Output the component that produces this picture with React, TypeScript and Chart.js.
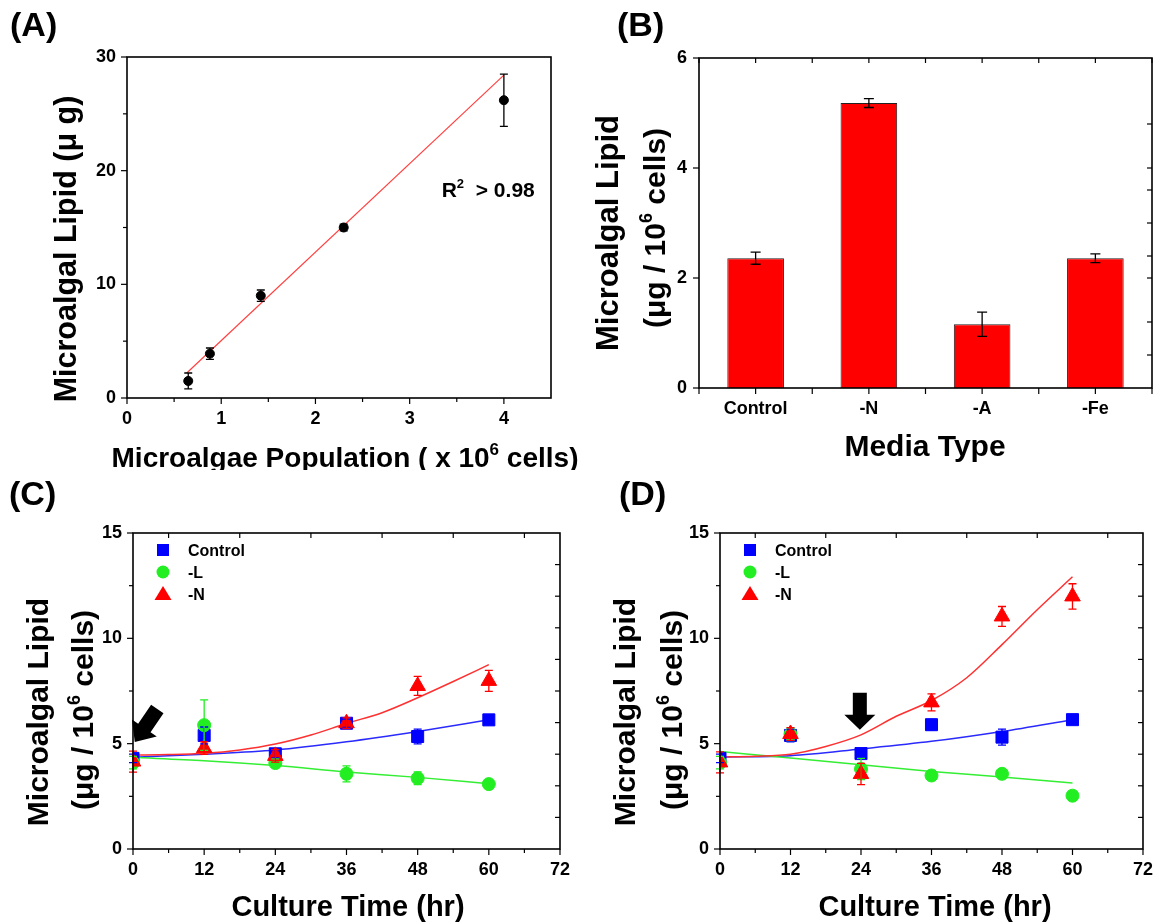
import React, { useEffect, useRef } from "react";
import { Chart, registerables } from "chart.js";
Chart.register(...registerables);

const FONT = "'Liberation Sans', Arial, Helvetica, sans-serif";

// ---------- Panel A data ----------
const popX = [0.65, 0.88, 1.42, 2.3, 4.0];
const lipidA = [1.5, 3.9, 9.0, 15.0, 26.2];
const lipidAErr = [0.7, 0.5, 0.5, 0.3, 2.3];
const fitAX = [0.634, 4.0];
const fitAY = [2.2, 28.4];

// ---------- Panel B data ----------
const mediaTypes = ["Control", "-N", "-A", "-Fe"];
const lipidB = [2.36, 5.18, 1.16, 2.36];
const lipidBErr = [0.11, 0.08, 0.22, 0.08];

// ---------- Panel C / D data ----------
const timeHr = [0, 12, 24, 36, 48, 60];
const fitTime = [0, 6, 12, 18, 24, 30, 36, 42, 48, 54, 60];

const cControl = [4.3, 5.39, 4.52, 5.97, 5.34, 6.13];
const cControlErr = [0.2, 0.4, 0.2, 0.2, 0.35, 0.15];
const cMinusL = [4.1, 5.88, 4.08, 3.57, 3.36, 3.08];
const cMinusLErr = [0.3, 1.2, 0.2, 0.38, 0.3, 0.15];
const cMinusN = [4.15, 4.79, 4.42, 5.97, 7.74, 7.98];
const cMinusNErr = [0.5, 0.3, 0.3, 0.25, 0.45, 0.5];
const cFitControl = [4.35, 4.5, 4.7, 5.09, 5.58, 6.13];
const cFitL = [4.35, 4.19, 3.96, 3.66, 3.4, 3.1];
const cFitN = [4.46, 4.48, 4.54, 4.7, 4.98, 5.41, 5.96, 6.47, 7.18, 7.95, 8.75];

const dControl = [4.3, 5.39, 4.53, 5.9, 5.31, 6.14];
const dControlErr = [0.2, 0.3, 0.2, 0.25, 0.38, 0.15];
const dMinusL = [4.1, 5.45, 3.8, 3.49, 3.57, 2.53];
const dMinusLErr = [0.3, 0.3, 0.5, 0.15, 0.15, 0.15];
const dMinusN = [4.11, 5.46, 3.56, 6.96, 11.04, 11.99];
const dMinusNErr = [0.5, 0.3, 0.5, 0.4, 0.47, 0.6];
const dFitControl = [4.37, 4.43, 4.75, 5.11, 5.58, 6.14];
const dFitL = [4.63, 4.32, 4.0, 3.68, 3.42, 3.13];
const dFitN = [4.37, 4.4, 4.5, 4.87, 5.42, 6.3, 7.05, 8.13, 9.7, 11.36, 12.92];

const RED = "#ff0000";
const GREEN = "#22ee22";
const BLUE = "#0000ff";

type Part = { t: string; sup?: boolean };

function drawRich(
  ctx: CanvasRenderingContext2D,
  parts: Part[],
  x: number,
  y: number,
  size: number,
  opts: { rot?: number; align?: "center" | "left" } = {}
) {
  ctx.save();
  ctx.translate(x, y);
  if (opts.rot) ctx.rotate(opts.rot);
  const fonts = parts.map((p) => `bold ${p.sup ? Math.round(size * 0.6) : size}px ${FONT}`);
  let total = 0;
  const widths = parts.map((p, i) => {
    ctx.font = fonts[i];
    const w = ctx.measureText(p.t).width;
    total += w;
    return w;
  });
  let cx = (opts.align ?? "center") === "center" ? -total / 2 : 0;
  ctx.textBaseline = "alphabetic";
  ctx.textAlign = "left";
  ctx.fillStyle = "#000";
  parts.forEach((p, i) => {
    ctx.font = fonts[i];
    ctx.fillText(p.t, cx, p.sup ? -size * 0.42 : 0);
    cx += widths[i];
  });
  ctx.restore();
}

type TickSet = { axis: "x" | "y"; side: "left" | "right" | "top" | "bottom"; values: number[]; len: number };
type ErrSet = { ds: number; err: number[]; color: string; cap: number };

function seq(a: number, b: number, step: number) {
  const r: number[] = [];
  for (let v = a; v <= b + 1e-9; v += step) r.push(+v.toFixed(6));
  return r;
}

function makeDecor(ticks: TickSet[], errs: ErrSet[], extra: (chart: any, ctx: CanvasRenderingContext2D) => void) {
  return {
    id: "decor",
    afterDatasetsDraw(chart: any) {
      const ctx: CanvasRenderingContext2D = chart.ctx;
      const ys = chart.scales.y;
      errs.forEach((e) => {
        const meta = chart.getDatasetMeta(e.ds);
        const data = chart.data.datasets[e.ds].data;
        ctx.save();
        ctx.strokeStyle = e.color;
        ctx.lineWidth = 1.3;
        meta.data.forEach((el: any, i: number) => {
          const raw = data[i];
          const v = typeof raw === "number" ? raw : raw.y;
          const d = e.err[i];
          if (!d) return;
          const x = el.x;
          const y1 = ys.getPixelForValue(v + d);
          const y2 = ys.getPixelForValue(v - d);
          ctx.beginPath();
          ctx.moveTo(x, y1);
          ctx.lineTo(x, y2);
          ctx.moveTo(x - e.cap, y1);
          ctx.lineTo(x + e.cap, y1);
          ctx.moveTo(x - e.cap, y2);
          ctx.lineTo(x + e.cap, y2);
          ctx.stroke();
        });
        ctx.restore();
      });
    },
    afterDraw(chart: any) {
      const ctx: CanvasRenderingContext2D = chart.ctx;
      const a = chart.chartArea;
      ctx.save();
      ctx.strokeStyle = "#000";
      ctx.lineWidth = 1.2;
      ticks.forEach((t) => {
        const sc = chart.scales[t.axis];
        t.values.forEach((v) => {
          const p = sc.getPixelForValue(v);
          ctx.beginPath();
          if (t.side === "bottom") {
            ctx.moveTo(p, a.bottom);
            ctx.lineTo(p, a.bottom + t.len);
          } else if (t.side === "top") {
            ctx.moveTo(p, a.top);
            ctx.lineTo(p, a.top - t.len);
          } else if (t.side === "left") {
            ctx.moveTo(a.left, p);
            ctx.lineTo(a.left - t.len, p);
          } else {
            ctx.moveTo(a.right, p);
            ctx.lineTo(a.right + t.len, p);
          }
          ctx.stroke();
        });
      });
      ctx.lineWidth = 1.6;
      ctx.strokeRect(a.left, a.top, a.right - a.left, a.bottom - a.top);
      ctx.restore();
      extra(chart, ctx);
    },
  };
}

const tickFont = { family: FONT, size: 18, weight: "bold" as const };

function linAxis(min: number, max: number, step: number, fit: "w" | "h", size: number, padding: number) {
  return {
    type: "linear" as const,
    min,
    max,
    grid: { display: false, drawTicks: false },
    border: { display: false },
    ticks: { stepSize: step, includeBounds: false, font: tickFont, color: "#000", padding, maxRotation: 0, autoSkip: false },
    afterFit: (s: any) => {
      if (fit === "w") s.width = size;
      else s.height = size;
    },
  };
}

function drawArrow(
  ctx: CanvasRenderingContext2D,
  tipX: number,
  tipY: number,
  angle: number,
  L: number,
  hl: number,
  hw: number,
  sw: number
) {
  ctx.save();
  ctx.translate(tipX, tipY);
  ctx.rotate(angle);
  ctx.beginPath();
  ctx.moveTo(0, 0);
  ctx.lineTo(-hl, hw / 2);
  ctx.lineTo(-hl, sw / 2);
  ctx.lineTo(-L, sw / 2);
  ctx.lineTo(-L, -sw / 2);
  ctx.lineTo(-hl, -sw / 2);
  ctx.lineTo(-hl, -hw / 2);
  ctx.closePath();
  ctx.fillStyle = "#000";
  ctx.fill();
  ctx.restore();
}

function drawLegend(ctx: CanvasRenderingContext2D, a: any) {
  const sx = a.left + 30;
  const tx = a.left + 55;
  const rows = [a.top + 17, a.top + 39, a.top + 61];
  ctx.save();
  ctx.fillStyle = BLUE;
  ctx.fillRect(sx - 6, rows[0] - 6, 12, 12);
  ctx.fillStyle = GREEN;
  ctx.beginPath();
  ctx.arc(sx, rows[1], 6.5, 0, Math.PI * 2);
  ctx.fill();
  ctx.fillStyle = RED;
  ctx.beginPath();
  ctx.moveTo(sx, rows[2] - 8);
  ctx.lineTo(sx + 8.5, rows[2] + 6);
  ctx.lineTo(sx - 8.5, rows[2] + 6);
  ctx.closePath();
  ctx.fill();
  ctx.restore();
  const labels = ["Control", "-L", "-N"];
  labels.forEach((l, i) => drawRich(ctx, [{ t: l }], tx, rows[i] + 6, 16, { align: "left" }));
}

const pts = (xs: number[], ys: number[]) => xs.map((x, i) => ({ x, y: ys[i] }));

function buildA() {
  const ticks: TickSet[] = [
    { axis: "x", side: "bottom", values: seq(0, 4, 1), len: 6 },
    { axis: "x", side: "bottom", values: seq(0.5, 3.5, 1), len: 4 },
    { axis: "y", side: "left", values: seq(0, 30, 10), len: 6 },
    { axis: "y", side: "left", values: seq(5, 25, 10), len: 4 },
  ];
  const errs: ErrSet[] = [{ ds: 0, err: lipidAErr, color: "#000", cap: 4 }];
  const extra = (chart: any, ctx: CanvasRenderingContext2D) => {
    drawRich(ctx, [{ t: "(A)" }], 10, 36, 34, { align: "left" });
    drawRich(ctx, [{ t: "Microalgal Lipid (μ g)" }], 76, 249, 30.5, { rot: -Math.PI / 2 });
    drawRich(ctx, [{ t: "Microalgae Population ( x 10" }, { t: "6", sup: true }, { t: " cells)" }], 345, 467, 28);
    const px = chart.scales.x.getPixelForValue(3.34);
    const py = chart.scales.y.getPixelForValue(17.7);
    drawRich(ctx, [{ t: "R" }, { t: "2", sup: true }, { t: "  > 0.98" }], px, py, 21, { align: "left" });
  };
  return {
    type: "scatter" as const,
    data: {
      datasets: [
        {
          label: "Microalgal lipid",
          data: pts(popX, lipidA),
          pointStyle: "circle",
          pointRadius: 4.5,
          backgroundColor: "#000",
          borderColor: "#000",
        },
        {
          label: "Linear fit",
          data: pts(fitAX, fitAY),
          showLine: true,
          pointRadius: 0,
          borderColor: "#ff4040",
          borderWidth: 1.2,
        },
      ],
    },
    options: {
      responsive: false,
      animation: false as const,
      layout: { padding: { left: 0, top: 57, right: 29, bottom: 0 } },
      plugins: { legend: { display: false }, tooltip: { enabled: false } },
      scales: {
        x: linAxis(0, 4.5, 1, "h", 72, 10),
        y: linAxis(0, 30, 10, "w", 127, 11),
      },
    },
    plugins: [makeDecor(ticks, errs, extra)],
  };
}

function buildB() {
  const cat = seq(-0.5, 3.5, 0.5);
  const ticks: TickSet[] = [
    { axis: "x", side: "bottom", values: cat, len: 6 },
    { axis: "x", side: "top", values: cat, len: -5 },
    { axis: "y", side: "left", values: seq(0, 6, 2), len: 6 },
    { axis: "y", side: "right", values: [0.6, 1.2, 2, 2.4, 3, 3.6, 4, 4.8], len: -5 },
  ];
  const errs: ErrSet[] = [{ ds: 0, err: lipidBErr, color: "#000", cap: 5 }];
  const extra = (chart: any, ctx: CanvasRenderingContext2D) => {
    drawRich(ctx, [{ t: "(B)" }], 37, 36, 34, { align: "left" });
    drawRich(ctx, [{ t: "Microalgal Lipid" }], 38, 233, 31, { rot: -Math.PI / 2 });
    drawRich(ctx, [{ t: "(μg / 10" }, { t: "6", sup: true }, { t: " cells)" }], 85, 228, 30, { rot: -Math.PI / 2 });
    drawRich(ctx, [{ t: "Media Type" }], 345, 456, 30);
  };
  return {
    type: "bar" as const,
    data: {
      labels: mediaTypes,
      datasets: [
        {
          label: "Microalgal lipid",
          data: lipidB,
          backgroundColor: RED,
          borderColor: "#222",
          borderWidth: 1,
          barPercentage: 0.5,
          categoryPercentage: 1,
        },
      ],
    },
    options: {
      responsive: false,
      animation: false as const,
      layout: { padding: { left: 0, top: 58, right: 11, bottom: 0 } },
      plugins: { legend: { display: false }, tooltip: { enabled: false } },
      scales: {
        x: {
          type: "category" as const,
          grid: { display: false, drawTicks: false },
          border: { display: false },
          ticks: { font: tickFont, color: "#000", padding: 10, maxRotation: 0, autoSkip: false },
          afterFit: (s: any) => {
            s.height = 82;
          },
        },
        y: linAxis(0, 6, 2, "w", 119, 12),
      },
    },
    plugins: [makeDecor(ticks, errs, extra)],
  };
}

function buildTime(
  letter: string,
  letterX: number,
  ctrl: number[],
  ctrlErr: number[],
  minusL: number[],
  minusLErr: number[],
  minusN: number[],
  minusNErr: number[],
  fitC: number[],
  fitL: number[],
  fitN: number[],
  leftW: number,
  padRight: number,
  titleX: number,
  line1X: number,
  line2X: number,
  arrow: (chart: any, ctx: CanvasRenderingContext2D) => void
) {
  const ticks: TickSet[] = [
    { axis: "x", side: "bottom", values: seq(0, 72, 12), len: 6 },
    { axis: "x", side: "bottom", values: seq(6, 66, 12), len: 4 },
    { axis: "x", side: "top", values: seq(6, 66, 12), len: -5 },
    { axis: "y", side: "left", values: seq(0, 15, 5), len: 6 },
    { axis: "y", side: "left", values: seq(2.5, 12.5, 5), len: 4 },
    { axis: "y", side: "right", values: seq(1.5, 13.5, 1.5), len: -5 },
  ];
  const errs: ErrSet[] = [
    { ds: 2, err: ctrlErr, color: BLUE, cap: 4 },
    { ds: 1, err: minusLErr, color: GREEN, cap: 4 },
    { ds: 0, err: minusNErr, color: RED, cap: 4 },
  ];
  const extra = (chart: any, ctx: CanvasRenderingContext2D) => {
    drawRich(ctx, [{ t: letter }], letterX, 35, 34, { align: "left" });
    drawRich(ctx, [{ t: "Microalgal Lipid" }], line1X, 242, 30, { rot: -Math.PI / 2 });
    drawRich(ctx, [{ t: "(μg / 10" }, { t: "6", sup: true }, { t: " cells)" }], line2X, 240, 30, { rot: -Math.PI / 2 });
    drawRich(ctx, [{ t: "Culture Time (hr)" }], titleX, 446, 29);
    drawLegend(ctx, chart.chartArea);
    arrow(chart, ctx);
  };
  const fitLine = (data: any, color: string) => ({
    label: "fit",
    data,
    showLine: true,
    pointRadius: 0,
    borderColor: color,
    borderWidth: 1.5,
    cubicInterpolationMode: "monotone" as const,
  });
  return {
    type: "scatter" as const,
    data: {
      datasets: [
        { label: "-N", data: pts(timeHr, minusN), pointStyle: "triangle", pointRadius: 9, backgroundColor: RED, borderColor: RED },
        { label: "-L", data: pts(timeHr, minusL), pointStyle: "circle", pointRadius: 6.5, backgroundColor: GREEN, borderColor: GREEN },
        { label: "Control", data: pts(timeHr, ctrl), pointStyle: "rect", pointRadius: 8.5, backgroundColor: BLUE, borderColor: BLUE },
        fitLine(pts(fitTime, fitN), "#ff3030"),
        fitLine(pts(timeHr, fitL), "#33ee33"),
        fitLine(pts(timeHr, fitC), "#2a2aff"),
      ],
    },
    options: {
      responsive: false,
      animation: false as const,
      layout: { padding: { left: 0, top: 63, right: padRight, bottom: 0 } },
      plugins: { legend: { display: false }, tooltip: { enabled: false } },
      scales: {
        x: linAxis(0, 72, 12, "h", 75, 10),
        y: linAxis(0, 15, 5, "w", leftW, 11),
      },
    },
    plugins: [makeDecor(ticks, errs, extra)],
  };
}

function buildC() {
  return buildTime(
    "(C)", 9, cControl, cControlErr, cMinusL, cMinusLErr, cMinusN, cMinusNErr,
    cFitControl, cFitL, cFitN, 133, 15, 348, 48, 93,
    (chart, ctx) => {
      const x = chart.scales.x.getPixelForValue(0.3);
      const y = chart.scales.y.getPixelForValue(5.08);
      drawArrow(ctx, x, y, Math.atan2(33, -22.5), 40, 17, 30, 15);
    }
  );
}

function buildD() {
  return buildTime(
    "(D)", 39, dControl, dControlErr, dMinusL, dMinusLErr, dMinusN, dMinusNErr,
    dFitControl, dFitL, dFitN, 140, 12, 355, 55, 102,
    (chart, ctx) => {
      const x = chart.scales.x.getPixelForValue(23.8);
      const y = chart.scales.y.getPixelForValue(5.66);
      drawArrow(ctx, x, y, Math.PI / 2, 37, 15, 31, 14);
    }
  );
}

function Panel({ left, top, width, height, build }: { left: number; top: number; width: number; height: number; build: () => any }) {
  const ref = useRef<HTMLCanvasElement>(null);
  useEffect(() => {
    const chart = new Chart(ref.current as HTMLCanvasElement, build());
    return () => chart.destroy();
  }, []);
  return (
    <canvas
      ref={ref}
      width={width}
      height={height}
      style={{ position: "absolute", left, top, width, height, display: "block" }}
    />
  );
}

export default function App() {
  return (
    <div style={{ position: "absolute", left: 0, top: 0, width: 1163, height: 924, background: "#fff", overflow: "hidden" }}>
      <Panel left={0} top={0} width={580} height={470} build={buildA} />
      <Panel left={580} top={0} width={583} height={470} build={buildB} />
      <Panel left={0} top={470} width={580} height={454} build={buildC} />
      <Panel left={580} top={470} width={583} height={454} build={buildD} />
    </div>
  );
}
